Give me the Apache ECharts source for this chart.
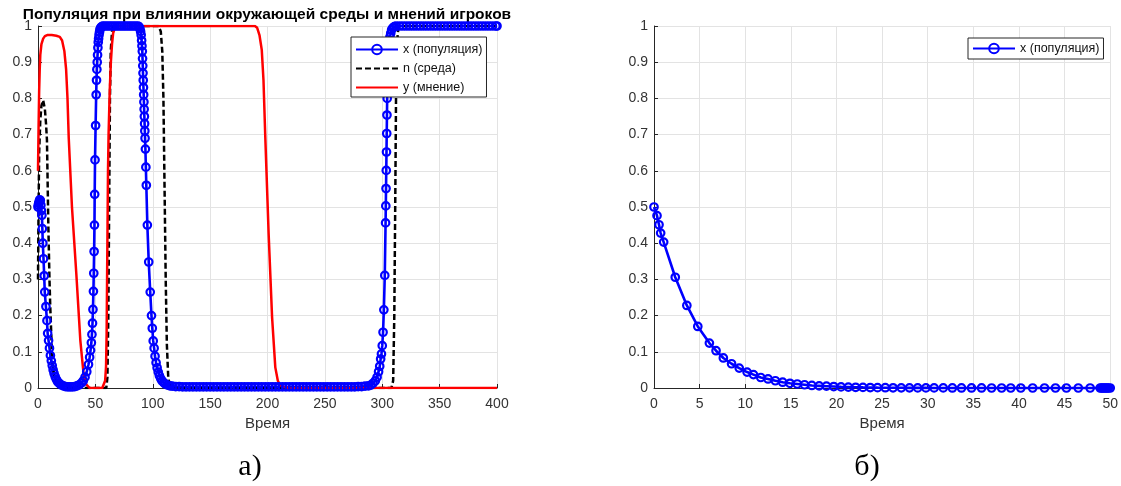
<!DOCTYPE html>
<html>
<head>
<meta charset="utf-8">
<script src="https://cdn.jsdelivr.net/npm/echarts@6/dist/echarts.min.js"></script>
<style>
  body { margin: 0; background: #fff; }
  #chart { width: 1121px; height: 486px; }
</style>
</head>
<body>
<div id="chart"></div>
<script>
// a) population x, environment n, opinion y  ->  [time, value]
var popData = [
  [0,0.5],[0.3,0.505],[0.6,0.51],[1,0.515],[1.5,0.52],[2,0.518],[2.5,0.505],[3,0.49],[3.4,0.477],[3.8,0.44],
  [4.2,0.40],[4.8,0.357],[5.4,0.31],[5.9,0.265],[6.9,0.225],[7.8,0.186],[8.4,0.151],[9.2,0.131],[10,0.11],[10.8,0.09],
  [11.6,0.075],[12.4,0.062],[13.2,0.05],[14,0.04],[15,0.031],[16,0.024],[17,0.018],[18.5,0.013],[20,0.009],[22,0.006],
  [24,0.004],[26,0.003],[28,0.003],[30,0.003],[32,0.004],[34,0.006],[36,0.009],[38,0.014],[39.5,0.02],[41,0.03],
  [42.5,0.045],[44,0.065],[45,0.085],[45.8,0.104],[46.5,0.125],[47,0.148],[47.5,0.179],[47.9,0.217],[48.3,0.267],[48.6,0.317],
  [48.9,0.377],[49.2,0.45],[49.4,0.535],[49.7,0.63],[50.2,0.725],[50.7,0.81],[51,0.85],[51.3,0.88],[51.6,0.9],[51.9,0.92],
  [52.2,0.94],[52.5,0.955],[52.8,0.965],[53.2,0.975],[53.6,0.983],[54,0.99],[54.5,0.994],[55,0.997],[56,0.999],[57,1],
  [59,1],[61,1],[63,1],[65,1],[67,1],[69,1],[71,1],[73,1],[75,1],[77,1],[79,1],[81,1],[83,1],[85,1],[87,1],
  [88,0.998],[88.8,0.993],[89.4,0.985],[89.9,0.975],[90.3,0.96],[90.6,0.945],[90.9,0.93],[91.1,0.91],[91.3,0.89],[91.5,0.87],
  [91.7,0.85],[91.9,0.83],[92.1,0.81],[92.3,0.79],[92.5,0.77],[92.7,0.75],[92.9,0.73],[93.1,0.71],[93.3,0.69],[93.6,0.66],
  [94,0.61],[94.4,0.56],[95.3,0.45],[96.5,0.348],[97.8,0.265],[98.9,0.2],[99.6,0.165],[100.4,0.13],[101.2,0.11],[102,0.088],
  [102.9,0.07],[103.8,0.056],[104.8,0.044],[105.8,0.034],[106.9,0.026],[108,0.02],[109.5,0.015],[111,0.011],[113,0.008],[115,0.006],
  [117,0.005],[120,0.004],[123,0.004],[126,0.003],[129,0.003],[132,0.003],[135,0.003],[138,0.003],[141,0.003],[144,0.003],
  [147,0.003],[150,0.003],[153,0.003],[156,0.003],[159,0.003],[162,0.003],[165,0.003],[168,0.003],[171,0.003],[174,0.003],
  [177,0.003],[180,0.003],[183,0.003],[186,0.003],[189,0.003],[192,0.003],[195,0.003],[198,0.003],[201,0.003],[204,0.003],
  [207,0.003],[210,0.003],[213,0.003],[216,0.003],[219,0.003],[222,0.003],[225,0.003],[228,0.003],[231,0.003],[234,0.003],
  [237,0.003],[240,0.003],[243,0.003],[246,0.003],[249,0.003],[252,0.003],[255,0.003],[258,0.003],[261,0.003],[264,0.003],
  [267,0.003],[270,0.003],[273,0.003],[276,0.003],[279,0.004],[282,0.004],[285,0.005],[288,0.006],[290,0.008],[292,0.013],
  [294,0.02],[295.5,0.03],[296.8,0.045],[297.8,0.06],[298.6,0.08],[299.3,0.094],[300,0.117],[300.7,0.154],[301.4,0.216],[302.2,0.311],
  [302.9,0.456],[303.1,0.503],[303.3,0.551],[303.5,0.601],[303.7,0.652],[303.9,0.703],[304.1,0.754],[304.3,0.80],[304.6,0.84],[304.9,0.87],
  [305.2,0.9],[305.6,0.93],[306.1,0.955],[306.7,0.97],[307.4,0.98],[308.2,0.99],[309.2,0.995],[310.5,0.998],[312,1],[315,1],
  [318,1],[321,1],[324,1],[327,1],[330,1],[333,1],[336,1],[339,1],[342,1],[345,1],[348,1],[351,1],[354,1],[357,1],
  [360,1],[363,1],[366,1],[369,1],[372,1],[375,1],[378,1],[381,1],[384,1],[387,1],[390,1],[393,1],[396,1],[399,1],[400,1]
];
var envData = [
  [0,0.3],[0.5,0.5],[1,0.65],[2,0.74],[3,0.78],[4.5,0.795],[6,0.77],[7,0.73],[7.8,0.685],[9,0.45],
  [10,0.3],[10.7,0.223],[12,0.11],[13.6,0.04],[15,0.012],[17,0.002],[20,0],[59.5,0],[60.5,0.03],[61.3,0.2],
  [62,0.5],[62.7,0.8],[63.4,0.93],[64.5,0.985],[66,1],[105,1],[107,0.985],[108.3,0.93],[109.3,0.8],[110.3,0.55],
  [111.3,0.3],[112.3,0.12],[113.5,0.03],[115,0.005],[117,0],[308,0],[309.5,0.02],[310.5,0.2],[311.3,0.5],[312,0.8],
  [312.8,0.95],[314,0.995],[316,1],[400,1]
];
var opData = [
  [0,0.6],[0.5,0.72],[1,0.82],[1.5,0.88],[2,0.92],[3,0.95],[4.5,0.965],[6,0.972],[8,0.975],[12,0.975],
  [16,0.973],[19,0.97],[21,0.96],[23,0.93],[24.5,0.88],[25.7,0.8],[26.8,0.69],[29.6,0.5],[33.4,0.315],[36.9,0.131],
  [39.7,0.04],[42,0.01],[45,0],[56,0],[57.5,0.005],[58.5,0.02],[59.3,0.06],[59.8,0.15],[60.2,0.3],[60.6,0.45],
  [61,0.6],[61.5,0.7],[62.5,0.82],[63.5,0.9],[64.5,0.95],[65.5,0.98],[67,0.995],[70,1],[189,1],[191,0.995],
  [193,0.975],[195,0.934],[196.5,0.85],[198,0.7],[201,0.425],[204,0.195],[206.8,0.057],[209,0.02],[211,0.008],[215,0.002],
  [220,0],[400,0]
];
// b) population x only
var popData2 = [
  [0,0.5],[0.33,0.476],[0.55,0.451],[0.73,0.428],[1.06,0.403],[2.33,0.306],[3.6,0.228],[4.8,0.17],[6.07,0.124],[6.8,0.103],
  [7.6,0.083],[8.5,0.067],[9.34,0.055],[10.2,0.044],[10.9,0.037],[11.7,0.029],[12.5,0.025],[13.3,0.02],[14.1,0.016],[14.9,0.013],
  [15.7,0.011],[16.5,0.009],[17.3,0.007],[18.1,0.006],[18.9,0.005],[19.7,0.004],[20.5,0.003],[21.3,0.0025],[22.1,0.002],[22.9,0.0016],
  [23.7,0.0013],[24.5,0.001],[25.35,0.0008],[26.2,0.0006],[27.1,0.0005],[28,0.0004],[28.9,0.0003],[29.8,0.0003],[30.7,0.0002],[31.7,0.0002],
  [32.7,0.0001],[33.7,0.0001],[34.8,0.0001],[35.9,0.0001],[37,0],[38.1,0],[39.1,0],[40.2,0],[41.5,0],[42.8,0],
  [44,0],[45.2,0],[46.5,0],[47.8,0],[48.9,0],[49.05,0],[49.2,0],[49.35,0],[49.5,0],[49.65,0],
  [49.8,0],[50,0]
];
var xMax1 = 400, xStep1 = 50;
var xMax2 = 50, xStep2 = 5;
var titleText = 'Популяция при влиянии окружающей среды и мнений игроков';
var axisName = 'Время';
var names = ['x (популяция)', 'n (среда)', 'y (мнение)'];

var font = '"Liberation Sans", Arial, sans-serif';
function xAx(idx, max, step) {
    return {
	type: 'value', gridIndex: idx, min: 0, max: max, interval: step,
	name: axisName, nameLocation: 'middle', nameGap: 27,
	nameTextStyle: { color: '#333', fontSize: 15, fontFamily: font },
	axisLine: { lineStyle: { color: '#262626', width: 1 } },
	axisTick: { inside: true, length: 4, lineStyle: { color: '#262626' } },
	axisLabel: { color: '#333', fontSize: 14, fontFamily: font, margin: 9 },
	splitLine: { show: true, lineStyle: { color: '#e3e3e3', width: 1 } }
    };
}
function yAx(idx) {
    return {
	type: 'value', gridIndex: idx, min: 0, max: 1, interval: 0.1,
	axisLine: { show: true, lineStyle: { color: '#262626', width: 1 } },
	axisTick: { show: true, inside: true, length: 4, lineStyle: { color: '#262626' } },
	axisLabel: { color: '#333', fontSize: 14, fontFamily: font, margin: 6 },
	splitLine: { show: true, lineStyle: { color: '#e3e3e3', width: 1 } }
    };
}
function popSeries(idx, data) {
    return {
	name: names[0], type: 'line', xAxisIndex: idx, yAxisIndex: idx, data: data,
	symbol: 'circle', symbolSize: 7.5, showSymbol: true, clip: false,
	itemStyle: { color: 'rgba(0,0,0,0)', borderColor: '#0000ff', borderWidth: 2.2 },
	lineStyle: { color: '#0000ff', width: 2.6 }
    };
}
var chart = echarts.init(document.getElementById('chart'));
var option = {
    animation: false,
    backgroundColor: '#fff',
    grid: [
	{ left: 38, top: 26, width: 459, height: 362 },
	{ left: 654, top: 26, width: 459, height: 362 }
    ],
    xAxis: [xAx(0, xMax1, xStep1), xAx(1, xMax2, xStep2)],
    yAxis: [yAx(0), yAx(1)],
    legend: [
	{
	    data: names, orient: 'vertical', left: 351, top: 37,
	    padding: [6, 4, 3, 4], itemGap: 6, itemWidth: 42, itemHeight: 12,
	    backgroundColor: '#fff', borderColor: '#262626', borderWidth: 1,
	    textStyle: { color: '#111', fontSize: 12.5, lineHeight: 12, fontFamily: font },
	    selectedMode: false
	},
	{
	    data: [names[0]], orient: 'vertical', left: 968, top: 38,
	    padding: [4, 4, 4, 4], itemWidth: 42, itemHeight: 12,
	    backgroundColor: '#fff', borderColor: '#262626', borderWidth: 1,
	    textStyle: { color: '#111', fontSize: 12.5, lineHeight: 12, fontFamily: font },
	    selectedMode: false
	}
    ],
    series: [
	popSeries(0, popData),
	{
	    name: names[1], type: 'line', xAxisIndex: 0, yAxisIndex: 0, data: envData,
	    showSymbol: false, symbol: 'none',
	    itemStyle: { color: 'rgba(0,0,0,0)', borderWidth: 0 },
	    lineStyle: { color: '#000', width: 2.5, type: [6, 3] }
	},
	{
	    name: names[2], type: 'line', xAxisIndex: 0, yAxisIndex: 0, data: opData,
	    showSymbol: false, symbol: 'none',
	    itemStyle: { color: 'rgba(0,0,0,0)', borderWidth: 0 },
	    lineStyle: { color: '#ff0000', width: 2.5 }
	},
	popSeries(1, popData2)
    ],
    graphic: [
	{ type: 'text', x: 267, y: 15, style: { text: titleText, font: 'bold 15.5px ' + font, fill: '#000', textAlign: 'center', textVerticalAlign: 'middle' } },
	{ type: 'text', x: 250, y: 467, style: { text: 'а)', font: '30px "Liberation Serif", "DejaVu Serif", serif', fill: '#000', textAlign: 'center', textVerticalAlign: 'middle' } },
	{ type: 'text', x: 867, y: 467, style: { text: 'б)', font: '30px "Liberation Serif", "DejaVu Serif", serif', fill: '#000', textAlign: 'center', textVerticalAlign: 'middle' } }
    ]
};
chart.setOption(option);
</script>
</body>
</html>
